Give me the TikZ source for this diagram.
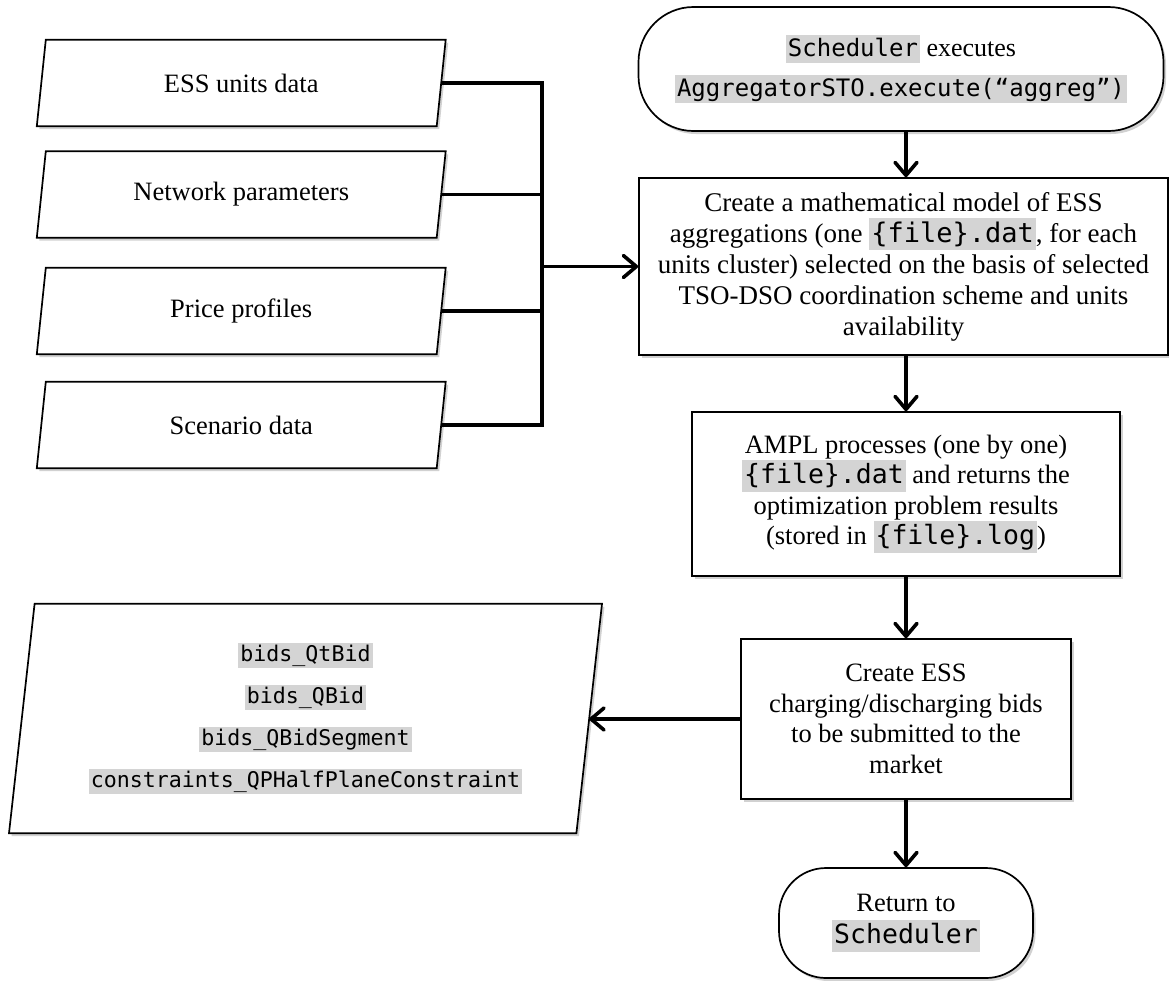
\documentclass[tikz,border=0pt]{standalone}
\usepackage{fontspec}
\setmainfont{Liberation Serif}
\newfontfamily\codefont{DejaVu Sans Mono}
\usetikzlibrary{arrows.meta,shadows,calc,backgrounds}
\definecolor{hl}{HTML}{D4D4D4}
\newcommand\cod[1]{{\setlength\fboxsep{0pt}\colorbox{hl}{\kern2pt\codefont\vrule height .9em depth .3em width 0pt #1\kern2pt}}}
\newcommand\tightls{\lineskiplimit=-20pt\relax}
\tikzset{
  shad/.style={drop shadow={shadow xshift=2.5pt, shadow yshift=-3pt, opacity=.3, fill=black!60}},
  txt/.style={align=center, inner sep=0pt, font=\fontsize{26.5}{30.5}\selectfont\tightls},
  proc/.style={txt, draw, line width=1.7pt, fill=white, shad},
  term/.style={proc, rounded corners=#1},
  para/.style={draw, line width=1.7pt, fill=white, shad},
  link/.style={line width=3.6pt},
  arr/.style={line width=3.6pt, -{Straight Barb[length=13pt,width=22pt,round]}}
}
\begin{document}
\begin{tikzpicture}[x=1pt,y=-1pt]
\useasboundingbox (0,0) rectangle (1169,980);
% input data
\node[txt, minimum width=399.5pt, minimum height=86pt] (ess) at (241.25,83) {ESS units data};
\node[txt, minimum width=399.5pt, minimum height=86pt] (net) at (241.25,194.5) {Network parameters};
\node[txt, minimum width=399.5pt, minimum height=86pt] (price) at (241.25,311) {Price profiles};
\node[txt, minimum width=399.5pt, minimum height=86pt] (scen) at (241.25,425) {Scenario data};
% output data
\node[txt, font=\fontsize{21.6}{42}\selectfont\tightls, minimum width=567pt, minimum height=229pt] (out) at (305.5,718.5)
  {\cod{bids\_QtBid}\\\cod{bids\_QBid}\\\cod{bids\_QBidSegment}\\\cod{constraints\_QPHalfPlaneConstraint}};
\begin{scope}[on background layer]
\foreach \n/\d in {ess/4.5,net/4.5,price/4.5,scen/4.5,out/12.8}
  \draw[para] ($(\n.north west)+(\d,0)$) -- ($(\n.north east)+(\d,0)$) -- ($(\n.south east)-(\d,0)$) -- ($(\n.south west)-(\d,0)$) -- cycle;
\end{scope}
% process chain
\node[term=55pt, minimum width=525pt, minimum height=124pt, font=\fontsize{26}{40}\selectfont\tightls] (start) at (901,69)
  {{\fontsize{24}{28}\selectfont\cod{Scheduler}} executes\\{\fontsize{24}{28}\selectfont\cod{AggregatorSTO.execute(“aggreg”)}}};
\node[proc, minimum width=529pt, minimum height=177pt, font=\fontsize{27}{31}\selectfont\tightls] (model) at (903.5,266.5)
  {Create a mathematical model of ESS\\aggregations (one \cod{\{file\}.dat}, for each\\units cluster) selected on the basis of selected\\TSO-DSO coordination scheme and units\\availability};
\node[proc, minimum width=428pt, minimum height=164pt] (ampl) at (906,494)
  {AMPL processes (one by one)\\\cod{\{file\}.dat} and returns the\\optimization problem results\\(stored in \cod{\{file\}.log})};
\node[proc, minimum width=330pt, minimum height=160pt] (bids) at (906,719)
  {Create ESS\\charging/discharging bids\\to be submitted to the\\market};
\node[term=47pt, minimum width=254pt, minimum height=110pt, font=\fontsize{26.5}{32}\selectfont\tightls] (ret) at (906,923)
  {Return to\\\cod{Scheduler}};
% bus
\coordinate (bus) at (542,266.5);
\draw[link] (ess.east) -| (bus |- scen.east) -- (scen.east);
\draw[link] (net.east) -- (bus |- net.east);
\draw[link] (price.east) -- (bus |- price.east);
\draw[arr] (bus) -- (model.west);
% chain arrows
\draw[arr] (start.south -| ampl.north) -- (ampl.north |- model.north);
\draw[arr] (model.south -| ampl.north) -- (ampl.north);
\draw[arr] (ampl.south) -- (bids.north);
\draw[arr] (bids.south) -- (ret.north);
\draw[arr] (bids.west) -- (bids.west -| out.east);
\end{tikzpicture}
\end{document}
